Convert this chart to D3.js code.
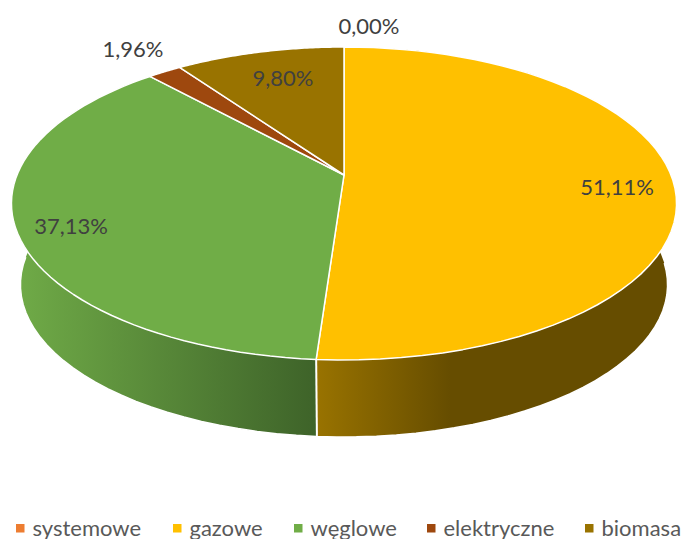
<!DOCTYPE html>
<html><head><meta charset="utf-8">
<script src="https://cdn.jsdelivr.net/npm/d3@7"></script>
<style>html,body{margin:0;padding:0;background:#fff;overflow:hidden}svg{display:block}</style>
</head><body><svg id="c" width="686" height="539"></svg>
<script>
const categories = ["systemowe","gazowe","węglowe","elektryczne","biomasa"];
const values = [0.00,51.11,37.13,1.96,9.80];
const labels = ["0,00%","51,11%","37,13%","1,96%","9,80%"];
const colors = ["#ED7D31","#FFC000","#70AD47","#9E480E","#997300"];

const svg = d3.select("#c");
const defs = svg.append("defs");
const apex = {x:344,y:175}, p = -0.182, A = 327, B = 151.3;
function proj(theta, r=1, dy=0, s=1){
  const X = r*Math.sin(theta), Y = -r*Math.cos(theta), d = 1+p*Y;
  return [apex.x + s*A*X/d, apex.y + dy + s*B*Y/d];
}
const line = d3.line();
const pie = d3.pie().sort(null).value(d=>d)(values);
const samples = (a,b)=>d3.range(0,61).map(i=>a+(b-a)*i/60);
const DY = 82, S = 0.973;

// side walls
const wallStops = {
  1:[["0%","#664D00"],["100%","#997300"]],
  2:[["0%","#6FAA47"],["100%","#3E6329"]]
};
const gradX = {1:[450,316],2:[20,316]};
pie.forEach((d,i)=>{
  if(!wallStops[i]) return;
  const id="w"+i;
  const g=defs.append("linearGradient").attr("id",id).attr("gradientUnits","userSpaceOnUse")
    .attr("x1",gradX[i][0]).attr("x2",gradX[i][1]).attr("y1",0).attr("y2",0);
  wallStops[i].forEach(s=>g.append("stop").attr("offset",s[0]).attr("stop-color",s[1]));
  const t=samples(d.startAngle,d.endAngle);
  const pts=t.map(a=>proj(a)).concat(t.slice().reverse().map(a=>proj(a,1,DY,S)));
  svg.append("path").attr("d",line(pts)+"Z").attr("fill",`url(#${id})`);
});
const bt=pie[1].endAngle;
svg.append("path").attr("d",line([proj(bt),proj(bt,1,DY,S)])).attr("stroke","#fff").attr("stroke-width",2).attr("fill","none");
svg.append("path").attr("d",line(samples(bt-1.6,bt+1.5).map(a=>proj(a,1,DY,S)))).attr("stroke","#fff").attr("stroke-width",1.5).attr("fill","none");

// top face
pie.forEach((d,i)=>{
  if(d.value===0) return;
  const pts=[[apex.x,apex.y]].concat(samples(d.startAngle,d.endAngle).map(a=>proj(a)));
  svg.append("path").attr("d",line(pts)+"Z").attr("fill",colors[i]).attr("stroke","#fff").attr("stroke-width",1.5).attr("stroke-linejoin","round");
});

// data labels
const font="Lato, Carlito, sans-serif";
const labelPos=[[369,34],[617,195],[71,234],[133,57],[283,86]];
svg.append("g").selectAll("text").data(labels).join("text")
  .attr("x",(d,i)=>labelPos[i][0]).attr("y",(d,i)=>labelPos[i][1])
  .attr("text-anchor","middle").attr("font-family",font).attr("font-size",22)
  .attr("fill","#404040").text(d=>d);

// legend
const legendX=[16,173,294,427,585];
const leg=svg.append("g").selectAll("g").data(categories).join("g")
  .attr("transform",(d,i)=>`translate(${legendX[i]},0)`);
leg.append("rect").attr("y",524).attr("width",8.5).attr("height",8.5).attr("fill",(d,i)=>colors[i]);
leg.append("text").attr("x",16.5).attr("y",535.5).attr("font-family",font).attr("font-size",22).attr("fill","#595959").text(d=>d);
</script></body></html>
